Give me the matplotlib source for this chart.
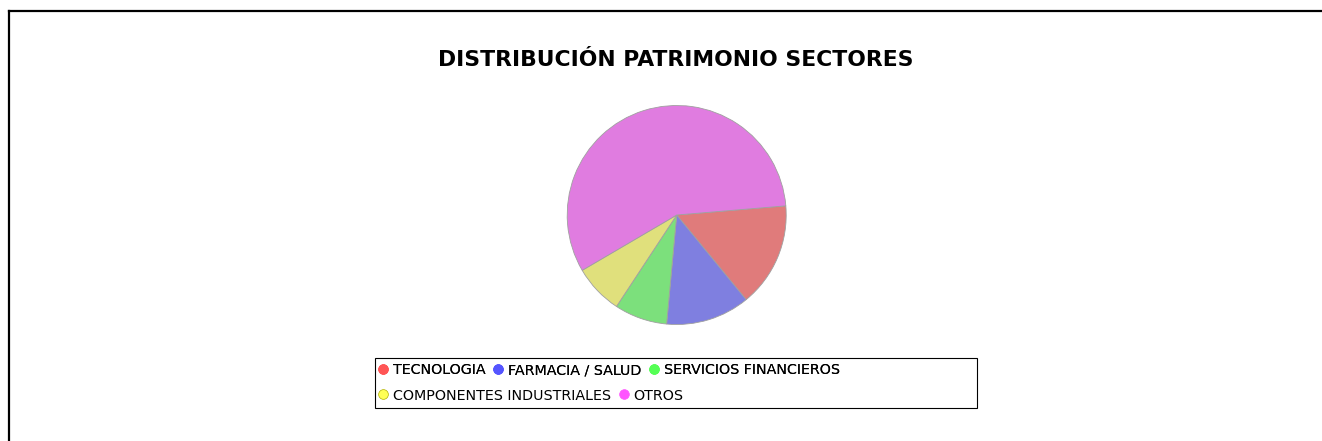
import matplotlib
matplotlib.use("Agg")
import matplotlib.pyplot as plt
from matplotlib.lines import Line2D
from matplotlib.patches import Rectangle

sectores = ["TECNOLOGIA", "FARMACIA / SALUD", "SERVICIOS FINANCIEROS",
            "COMPONENTES INDUSTRIALES", "OTROS"]
porcentajes = [15.4, 12.4, 7.8, 7.3, 57.1]
colores_pie = ["#e07b7b", "#7f7fe0", "#7ce07c", "#e0e07c", "#e07ce0"]
colores_leyenda = ["#ff5555", "#5555ff", "#55ff55", "#ffff55", "#ff55ff"]

W, H = 1322, 441
fig = plt.figure(figsize=(W / 100, H / 100), dpi=100)
fig.patch.set_facecolor("white")

# marco (solo arriba e izquierda)
fig.add_artist(Line2D([8.5 / W, 8.5 / W], [0, 1 - 10.5 / H], color="black", lw=1.6,
                      transform=fig.transFigure))
fig.add_artist(Line2D([8.5 / W, 1], [1 - 10.5 / H, 1 - 10.5 / H], color="black", lw=1.6,
                      transform=fig.transFigure))

fig.text(675.5 / W, 1 - 60.5 / H, "DISTRIBUCIÓN PATRIMONIO SECTORES", ha="center", va="center",
         fontsize=15.75, fontweight="bold")

r = 109.5
cx, cy = 676.7, 215
ax = fig.add_axes([(cx - r) / W, (H - cy - r) / H, 2 * r / W, 2 * r / H])
ax.pie(porcentajes, colors=colores_pie, startangle=4.8, counterclock=False,
       wedgeprops=dict(edgecolor="#a0a0a0", linewidth=0.6))
ax.set_xlim(-1, 1)
ax.set_ylim(-1, 1)
ax.axis("off")

# leyenda: caja + dos filas
fig.add_artist(Rectangle((375 / W, 1 - 408 / H), 602 / W, 50 / H, fill=False,
                         edgecolor="black", lw=0.8, transform=fig.transFigure))

handles = [Line2D([], [], marker="o", ls="", markersize=7, markerfacecolor=c,
                  markeredgecolor=c if i != 3 else "#b0b000", markeredgewidth=0.5)
           for i, c in enumerate(colores_leyenda)]
kw = dict(frameon=False, loc="center left", handlelength=0.7, handletextpad=0.33,
          columnspacing=0.55, borderpad=0, borderaxespad=0, fontsize=10.3)
leg1 = fig.legend(handles[:3], sectores[:3], ncol=3, bbox_to_anchor=(378 / W, 1 - 370.5 / H), **kw)
fig.add_artist(leg1)
fig.legend(handles[3:], sectores[3:], ncol=2, bbox_to_anchor=(378 / W, 1 - 395.5 / H), **kw)

fig.savefig("out.png", dpi=100)
